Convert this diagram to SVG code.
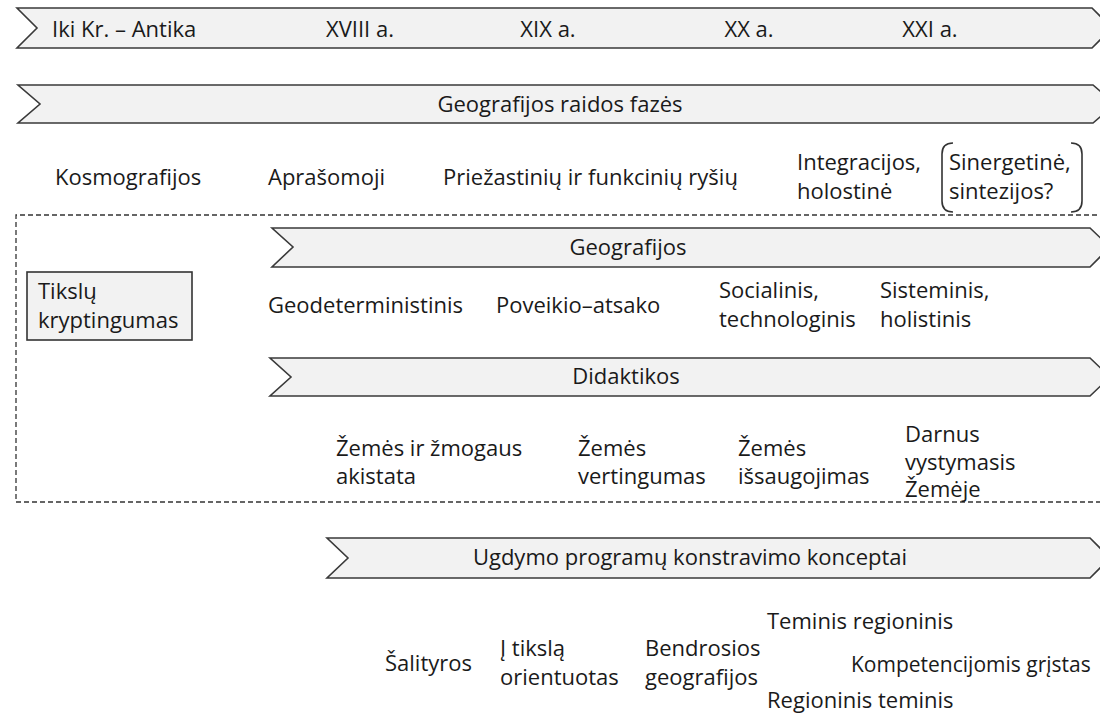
<svg xmlns="http://www.w3.org/2000/svg" width="1100" height="714" viewBox="0 0 1100 714">
<style>
.bn{fill:#f2f2f2;stroke:#3a3a3a;stroke-width:1.6}
.t{font-family:"Open Sans","Liberation Sans",sans-serif;font-size:22px;fill:#1a1a1a}
.m{text-anchor:middle}
.box{fill:#f2f2f2;stroke:#333;stroke-width:1.6}
.br{fill:none;stroke:#333;stroke-width:1.6}
.dash{fill:none;stroke:#333;stroke-width:1.3;stroke-dasharray:5 3}
</style>
<rect width="1100" height="714" fill="#fff"/>
<g id="frame"><path class="dash" d="M1105 215 H16 V502 H1105"/></g>
<g id="timeline">
<polygon class="bn" points="17,8 1092,8 1112,28 1092,48 17,48 37,28"/>
<text class="t" x="52" y="37">Iki Kr. – Antika</text>
<text class="t m" x="360" y="37">XVIII a.</text>
<text class="t m" x="548" y="37">XIX a.</text>
<text class="t m" x="749" y="37">XX a.</text>
<text class="t m" x="930" y="37">XXI a.</text>
</g>
<g id="phases">
<polygon class="bn" points="18,85 1093,85 1115,104 1093,123 18,123 40,104"/>
<text class="t m" x="560" y="112">Geografijos raidos fazės</text>
</g>
<g id="phase-labels">
<text class="t" x="55" y="185">Kosmografijos</text>
<text class="t" x="268" y="185">Aprašomoji</text>
<text class="t" x="443" y="185">Priežastinių ir funkcinių ryšių</text>
<text class="t" x="797" y="170">Integracijos,</text>
<text class="t" x="797" y="199">holostinė</text>
</g>
<g id="sinergetine">
<path class="br" d="M953,143 Q942,143 942,154 V201 Q942,212 953,212"/>
<path class="br" d="M1071,143 Q1082,143 1082,154 V201 Q1082,212 1071,212"/>
<text class="t" x="949" y="170">Sinergetinė,</text>
<text class="t" x="949" y="199">sintezijos?</text>
</g>
<g id="tikslu">
<rect class="box" x="27" y="272" width="165" height="68"/>
<text class="t" x="38" y="299">Tikslų</text>
<text class="t" x="38" y="328">kryptingumas</text>
</g>
<g id="geografijos">
<polygon class="bn" points="272,228 1090,228 1110,247 1090,267 272,267 293,247"/>
<text class="t m" x="628" y="255">Geografijos</text>
</g>
<g id="geo-labels">
<text class="t" x="268" y="313">Geodeterministinis</text>
<text class="t" x="496" y="313">Poveikio–atsako</text>
<text class="t" x="719" y="298">Socialinis,</text>
<text class="t" x="719" y="327">technologinis</text>
<text class="t" x="880" y="298">Sisteminis,</text>
<text class="t" x="880" y="327">holistinis</text>
</g>
<g id="didaktikos">
<polygon class="bn" points="270,358 1090,358 1110,377 1090,396 270,396 291,377"/>
<text class="t m" x="626" y="384">Didaktikos</text>
</g>
<g id="did-labels">
<text class="t" x="336" y="456">Žemės ir žmogaus</text>
<text class="t" x="336" y="484">akistata</text>
<text class="t" x="578" y="456">Žemės</text>
<text class="t" x="578" y="484">vertingumas</text>
<text class="t" x="738" y="456">Žemės</text>
<text class="t" x="738" y="484">išsaugojimas</text>
<text class="t" x="905" y="442">Darnus</text>
<text class="t" x="905" y="470">vystymasis</text>
<text class="t" x="905" y="497">Žemėje</text>
</g>
<g id="ugdymo">
<polygon class="bn" points="327,538 1090,538 1110,558 1090,578 327,578 348,558"/>
<text class="t m" x="690" y="565">Ugdymo programų konstravimo konceptai</text>
</g>
<g id="ugd-labels">
<text class="t" x="385" y="671">Šalityros</text>
<text class="t" x="500" y="656">Į tikslą</text>
<text class="t" x="500" y="685">orientuotas</text>
<text class="t" x="645" y="656">Bendrosios</text>
<text class="t" x="645" y="685">geografijos</text>
<text class="t" x="767" y="629">Teminis regioninis</text>
<text class="t" x="851" y="672" style="font-size:21px">Kompetencijomis grįstas</text>
<text class="t" x="767" y="708">Regioninis teminis</text>
</g>
</svg>
